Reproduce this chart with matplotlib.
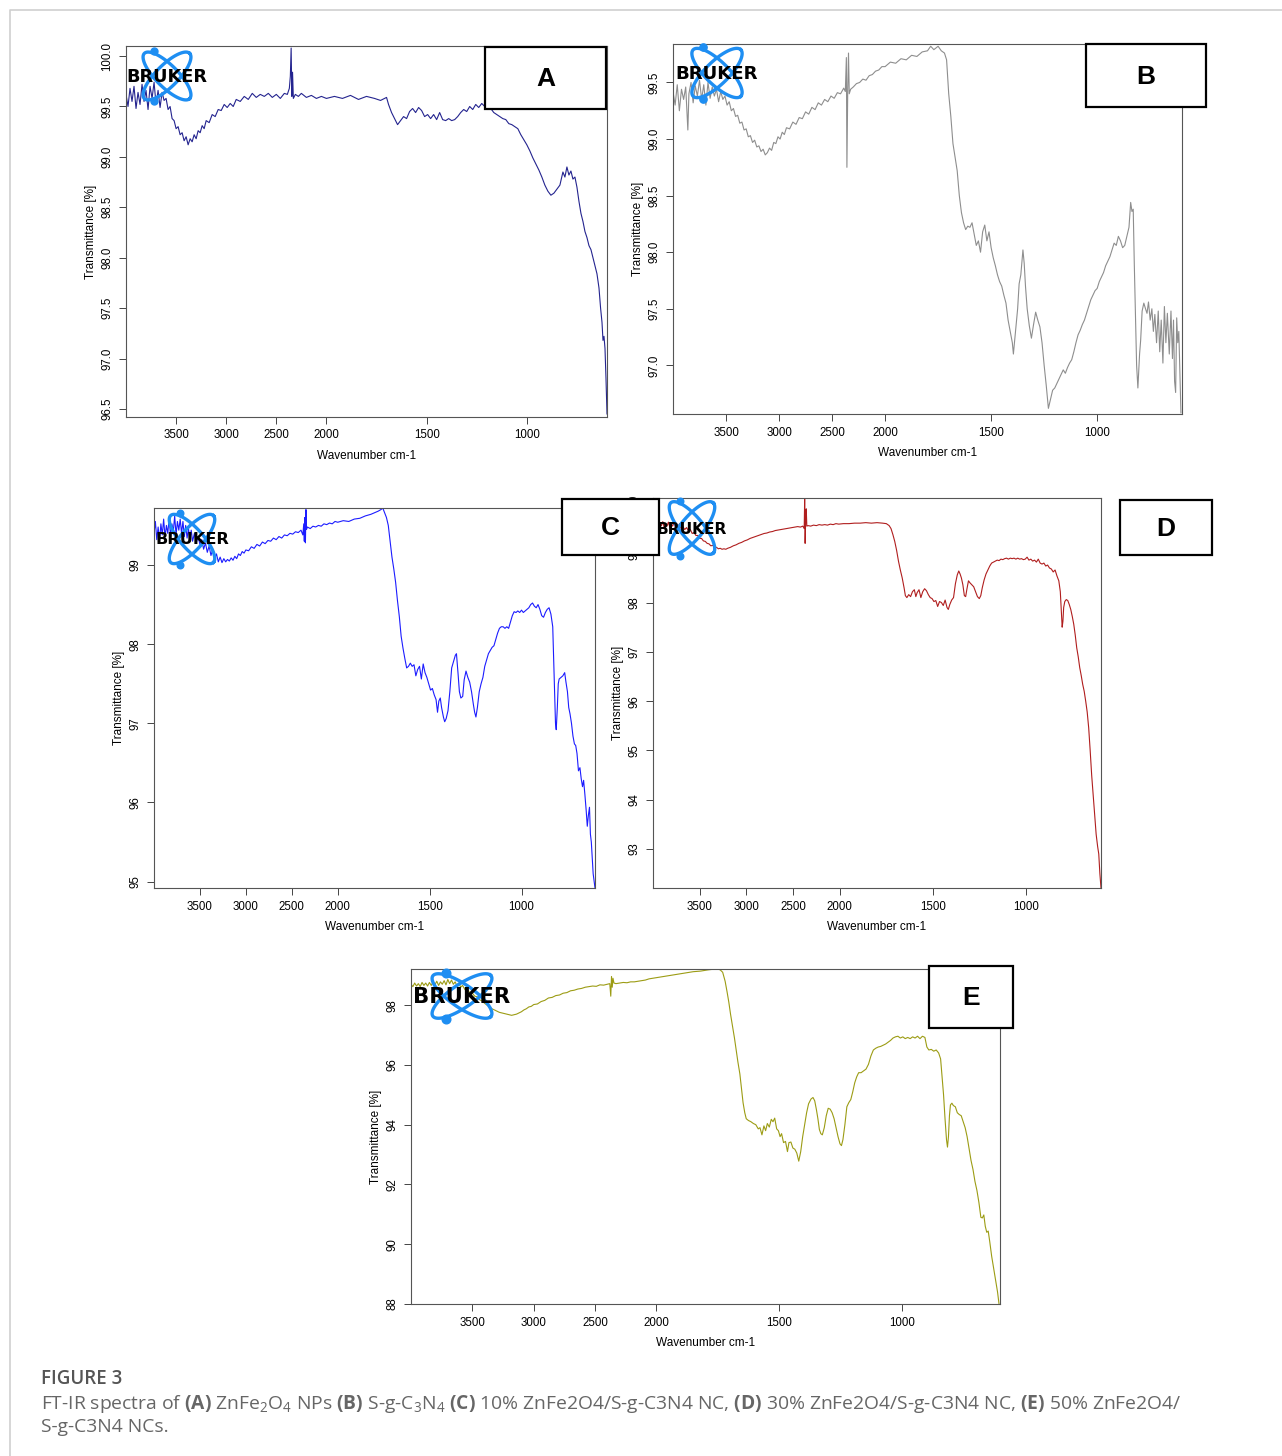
import numpy as np
import matplotlib
matplotlib.use('Agg')
import matplotlib.pyplot as plt
from matplotlib.patches import Rectangle

W, H = 1282, 1456

# ---- spectra (wavenumber cm-1, transmittance %) ----
A_wn = [4000, 3980, 3960, 3940, 3920, 3900, 3880, 3860, 3840, 3820, 3800, 3780, 3760, 3740, 3720, 3700,
        3680, 3660, 3640, 3620, 3600, 3580, 3560, 3540, 3520, 3500, 3480, 3460, 3440, 3420, 3400, 3380,
        3360, 3340, 3320, 3300, 3280, 3260, 3240, 3220, 3200, 3170, 3140, 3110, 3080, 3050, 3020, 2990,
        2960, 2930, 2900, 2860, 2820, 2780, 2740, 2700, 2660, 2620, 2580, 2540, 2500, 2460, 2420, 2390,
        2370, 2360, 2352, 2345, 2338, 2330, 2310, 2280, 2250, 2200, 2150, 2100, 2050, 2000, 1960, 1920,
        1880, 1840, 1800, 1760, 1730, 1710, 1700, 1690, 1675, 1660, 1645, 1630, 1615, 1600, 1585, 1570,
        1555, 1540, 1525, 1510, 1495, 1480, 1465, 1450, 1435, 1420, 1405, 1390, 1375, 1360, 1345, 1330,
        1315, 1300, 1285, 1270, 1255, 1240, 1225, 1210, 1195, 1180, 1165, 1150, 1135, 1120, 1105, 1090,
        1075, 1060, 1045, 1030, 1015, 1000, 985, 970, 955, 940, 925, 910, 895, 880, 865, 850, 835, 820,
        810, 800, 790, 780, 770, 760, 750, 740, 730, 720, 710, 700, 690, 680, 670, 660, 650, 640, 632,
        625, 620, 615, 610, 605, 600]
A_tr = [99.62, 99.50, 99.68, 99.55, 99.70, 99.48, 99.64, 99.52, 99.72, 99.55, 99.66, 99.47, 99.70, 99.58,
        99.74, 99.52, 99.66, 99.49, 99.64, 99.56, 99.58, 99.47, 99.50, 99.38, 99.36, 99.28, 99.30, 99.22,
        99.24, 99.16, 99.20, 99.12, 99.18, 99.15, 99.22, 99.18, 99.26, 99.24, 99.31, 99.28, 99.36, 99.34,
        99.42, 99.40, 99.47, 99.46, 99.52, 99.49, 99.53, 99.50, 99.57, 99.55, 99.60, 99.57, 99.63, 99.59,
        99.62, 99.60, 99.63, 99.59, 99.62, 99.58, 99.63, 99.62, 99.68, 99.80, 100.08, 99.60, 99.84, 99.58,
        99.62, 99.60, 99.63, 99.59, 99.61, 99.58, 99.60, 99.58, 99.60, 99.58, 99.61, 99.57, 99.60, 99.58,
        99.56, 99.58, 99.59, 99.52, 99.44, 99.38, 99.32, 99.36, 99.40, 99.38, 99.45, 99.48, 99.44, 99.49,
        99.46, 99.40, 99.42, 99.38, 99.42, 99.37, 99.44, 99.37, 99.36, 99.38, 99.36, 99.37, 99.40, 99.44,
        99.47, 99.45, 99.50, 99.47, 99.52, 99.49, 99.53, 99.50, 99.47, 99.48, 99.44, 99.42, 99.40, 99.38,
        99.37, 99.33, 99.32, 99.30, 99.28, 99.22, 99.17, 99.12, 99.06, 98.99, 98.93, 98.87, 98.80, 98.72,
        98.66, 98.62, 98.64, 98.68, 98.72, 98.85, 98.80, 98.90, 98.82, 98.86, 98.78, 98.80, 98.70, 98.56,
        98.44, 98.36, 98.26, 98.20, 98.12, 98.08, 98.00, 97.92, 97.84, 97.70, 97.50, 97.36, 97.18, 97.22,
        97.10, 96.80, 96.45]

B_wn = [4000, 3980, 3960, 3940, 3920, 3900, 3880, 3860, 3850, 3830, 3810, 3790, 3770, 3750, 3730, 3710,
        3690, 3670, 3650, 3630, 3610, 3590, 3570, 3550, 3530, 3510, 3490, 3470, 3450, 3430, 3410, 3390,
        3370, 3350, 3330, 3310, 3290, 3270, 3250, 3230, 3210, 3190, 3170, 3150, 3130, 3110, 3090, 3070,
        3050, 3030, 3010, 2990, 2970, 2950, 2930, 2900, 2870, 2840, 2810, 2780, 2750, 2720, 2690, 2660,
        2630, 2600, 2570, 2540, 2510, 2480, 2450, 2420, 2390, 2375, 2365, 2360, 2352, 2345, 2338, 2325,
        2300, 2270, 2240, 2210, 2180, 2150, 2120, 2090, 2060, 2030, 2000, 1975, 1950, 1925, 1900, 1875,
        1850, 1825, 1800, 1785, 1770, 1750, 1735, 1720, 1710, 1700, 1690, 1680, 1670, 1660, 1650, 1640,
        1630, 1620, 1610, 1600, 1590, 1580, 1570, 1560, 1550, 1540, 1530, 1520, 1510, 1500, 1490, 1480,
        1470, 1460, 1450, 1440, 1430, 1420, 1410, 1400, 1395, 1385, 1375, 1368, 1360, 1350, 1344, 1338,
        1330, 1320, 1310, 1300, 1290, 1280, 1270, 1260, 1250, 1240, 1230, 1220, 1210, 1200, 1190, 1180,
        1170, 1160, 1150, 1140, 1130, 1120, 1110, 1100, 1090, 1080, 1070, 1060, 1050, 1040, 1030, 1020,
        1010, 1000, 990, 980, 970, 960, 950, 940, 930, 920, 910, 900, 890, 880, 870, 860, 850, 842, 836,
        830, 825, 820, 814, 808, 800, 795, 788, 780, 772, 765, 758, 750, 742, 735, 728, 720, 712, 705,
        698, 690, 683, 676, 669, 660, 652, 645, 640, 635, 630, 625, 620, 615, 610, 605]
B_tr = [99.42, 99.30, 99.48, 99.25, 99.44, 99.35, 99.46, 99.08, 99.40, 99.50, 99.32, 99.47, 99.38, 99.52,
        99.35, 99.48, 99.30, 99.50, 99.36, 99.46, 99.38, 99.44, 99.33, 99.42, 99.35, 99.38, 99.30, 99.33,
        99.25, 99.27, 99.20, 99.21, 99.14, 99.15, 99.08, 99.09, 99.02, 99.03, 98.97, 98.99, 98.93, 98.94,
        98.89, 98.91, 98.86, 98.88, 98.92, 98.90, 98.97, 98.96, 99.02, 99.00, 99.06, 99.04, 99.10, 99.09,
        99.15, 99.13, 99.19, 99.18, 99.24, 99.22, 99.28, 99.26, 99.32, 99.30, 99.35, 99.33, 99.38, 99.36,
        99.41, 99.40, 99.45, 99.42, 99.72, 98.75, 99.45, 99.76, 99.40, 99.44, 99.46, 99.49, 99.50, 99.53,
        99.52, 99.56, 99.57, 99.60, 99.61, 99.64, 99.64, 99.68, 99.67, 99.71, 99.70, 99.74, 99.73, 99.77,
        99.78, 99.82, 99.79, 99.82, 99.78, 99.76, 99.70, 99.40, 99.20, 98.96, 98.84, 98.72, 98.50, 98.35,
        98.26, 98.20, 98.23, 98.22, 98.26, 98.16, 98.06, 98.10, 98.00, 98.18, 98.24, 98.10, 98.18, 98.04,
        97.95, 97.88, 97.80, 97.74, 97.70, 97.62, 97.55, 97.40, 97.30, 97.20, 97.10, 97.30, 97.50, 97.72,
        97.80, 98.02, 97.90, 97.70, 97.50, 97.35, 97.24, 97.36, 97.47, 97.40, 97.34, 97.20, 97.00, 96.82,
        96.62, 96.70, 96.78, 96.80, 96.84, 96.88, 96.92, 96.96, 96.93, 96.98, 97.02, 97.05, 97.12, 97.20,
        97.27, 97.31, 97.36, 97.40, 97.46, 97.52, 97.58, 97.62, 97.66, 97.68, 97.74, 97.78, 97.82, 97.88,
        97.92, 97.96, 98.02, 98.08, 98.06, 98.14, 98.10, 98.04, 98.06, 98.14, 98.22, 98.44, 98.36, 98.38,
        97.90, 97.50, 97.00, 96.80, 97.10, 97.22, 97.48, 97.55, 97.50, 97.46, 97.56, 97.40, 97.50, 97.30,
        97.45, 97.20, 97.48, 97.12, 97.40, 97.02, 97.52, 97.20, 97.46, 97.10, 97.48, 97.06, 97.40, 96.86,
        96.76, 97.42, 97.20, 97.30, 96.95, 96.58]

C_wn = [4000, 3985, 3970, 3955, 3940, 3925, 3910, 3895, 3880, 3865, 3850, 3835, 3820, 3805, 3790, 3775,
        3760, 3745, 3730, 3715, 3700, 3685, 3670, 3655, 3640, 3625, 3610, 3595, 3580, 3560, 3540, 3520,
        3500, 3480, 3460, 3440, 3420, 3400, 3380, 3360, 3340, 3320, 3300, 3280, 3260, 3240, 3220, 3200,
        3180, 3160, 3140, 3120, 3100, 3080, 3060, 3040, 3020, 3000, 2970, 2940, 2910, 2880, 2850, 2820,
        2790, 2760, 2730, 2700, 2670, 2640, 2610, 2580, 2550, 2520, 2490, 2460, 2430, 2400, 2380, 2370,
        2364, 2358, 2352, 2346, 2340, 2330, 2300, 2270, 2240, 2210, 2180, 2150, 2120, 2090, 2060, 2030,
        2000, 1970, 1940, 1910, 1880, 1850, 1820, 1800, 1780, 1765, 1755, 1745, 1735, 1725, 1715, 1705,
        1695, 1685, 1675, 1665, 1655, 1645, 1635, 1625, 1615, 1605, 1595, 1585, 1575, 1565, 1555, 1545,
        1535, 1525, 1515, 1505, 1495, 1485, 1475, 1465, 1457, 1450, 1442, 1435, 1425, 1418, 1410, 1400,
        1390, 1380, 1370, 1360, 1354, 1345, 1338, 1330, 1320, 1312, 1302, 1292, 1282, 1272, 1262, 1255,
        1248, 1240, 1230, 1220, 1210, 1200, 1190, 1180, 1170, 1160, 1150, 1140, 1130, 1120, 1110, 1100,
        1090, 1080, 1070, 1060, 1050, 1040, 1030, 1020, 1010, 1000, 990, 980, 970, 960, 950, 940, 930,
        920, 910, 900, 890, 880, 870, 860, 850, 840, 830, 825, 820, 815, 811, 805, 800, 795, 785, 775,
        765, 758, 750, 743, 736, 728, 720, 712, 705, 698, 690, 682, 675, 668, 662, 655, 648, 642, 636,
        630, 625, 620, 615, 610, 600]
C_tr = [99.40, 99.55, 99.32, 99.48, 99.30, 99.52, 99.38, 99.58, 99.35, 99.50, 99.40, 99.60, 99.36, 99.52,
        99.42, 99.62, 99.38, 99.55, 99.44, 99.58, 99.40, 99.55, 99.36, 99.50, 99.34, 99.46, 99.32, 99.44,
        99.30, 99.40, 99.28, 99.36, 99.26, 99.32, 99.20, 99.28, 99.16, 99.24, 99.12, 99.20, 99.08, 99.14,
        99.04, 99.10, 99.03, 99.08, 99.04, 99.07, 99.05, 99.09, 99.06, 99.11, 99.08, 99.14, 99.12, 99.17,
        99.15, 99.19, 99.18, 99.23, 99.21, 99.26, 99.24, 99.29, 99.27, 99.31, 99.30, 99.34, 99.32, 99.36,
        99.34, 99.38, 99.37, 99.40, 99.39, 99.42, 99.41, 99.44, 99.38, 99.52, 99.30, 99.60, 99.28, 99.70,
        99.45, 99.48, 99.46, 99.49, 99.48, 99.50, 99.49, 99.52, 99.51, 99.53, 99.52, 99.55, 99.54, 99.56,
        99.55, 99.58, 99.59, 99.62, 99.64, 99.66, 99.68, 99.70, 99.72, 99.66, 99.60, 99.50, 99.30, 99.10,
        98.95, 98.78, 98.55, 98.35, 98.10, 97.95, 97.82, 97.70, 97.72, 97.76, 97.72, 97.74, 97.60, 97.68,
        97.72, 97.56, 97.75, 97.64, 97.58, 97.50, 97.42, 97.44, 97.36, 97.30, 97.14, 97.28, 97.32, 97.20,
        97.08, 97.02, 97.06, 97.16, 97.40, 97.70, 97.78, 97.86, 97.88, 97.62, 97.40, 97.32, 97.34, 97.55,
        97.66, 97.58, 97.52, 97.40, 97.24, 97.14, 97.08, 97.20, 97.40, 97.50, 97.58, 97.72, 97.80, 97.88,
        97.92, 97.96, 97.98, 98.06, 98.14, 98.20, 98.22, 98.22, 98.20, 98.22, 98.20, 98.28, 98.36, 98.41,
        98.40, 98.42, 98.40, 98.43, 98.40, 98.42, 98.44, 98.46, 98.50, 98.52, 98.48, 98.46, 98.50, 98.44,
        98.36, 98.34, 98.40, 98.44, 98.46, 98.38, 98.22, 97.80, 97.40, 97.00, 96.92, 97.20, 97.50, 97.56,
        97.58, 97.60, 97.64, 97.52, 97.40, 97.20, 97.12, 97.00, 96.84, 96.74, 96.72, 96.62, 96.40, 96.44,
        96.30, 96.20, 96.28, 96.10, 95.90, 95.70, 95.84, 95.94, 95.60, 95.50, 95.30, 95.10, 94.92]

D_wn = [4000, 3985, 3970, 3955, 3940, 3925, 3910, 3895, 3880, 3865, 3850, 3835, 3820, 3805, 3790, 3775,
        3760, 3745, 3730, 3715, 3700, 3680, 3660, 3640, 3620, 3600, 3580, 3560, 3540, 3520, 3500, 3480,
        3460, 3440, 3420, 3400, 3380, 3360, 3340, 3320, 3300, 3280, 3260, 3240, 3220, 3200, 3170, 3140,
        3110, 3080, 3050, 3020, 2990, 2960, 2930, 2900, 2870, 2840, 2810, 2780, 2750, 2720, 2690, 2660,
        2630, 2600, 2570, 2540, 2510, 2480, 2450, 2420, 2395, 2380, 2375, 2370, 2365, 2358, 2352, 2340,
        2310, 2280, 2250, 2220, 2190, 2160, 2130, 2100, 2070, 2040, 2010, 1980, 1950, 1920, 1890, 1860,
        1830, 1800, 1770, 1750, 1735, 1725, 1715, 1705, 1695, 1685, 1675, 1665, 1655, 1648, 1640, 1630,
        1620, 1610, 1600, 1592, 1585, 1575, 1565, 1555, 1545, 1535, 1525, 1515, 1505, 1495, 1485, 1475,
        1465, 1455, 1445, 1435, 1425, 1418, 1410, 1400, 1390, 1380, 1370, 1362, 1355, 1348, 1340, 1332,
        1325, 1318, 1310, 1302, 1292, 1282, 1272, 1262, 1252, 1244, 1236, 1226, 1216, 1206, 1196, 1186,
        1176, 1166, 1156, 1146, 1136, 1126, 1116, 1106, 1096, 1086, 1076, 1066, 1056, 1046, 1036, 1026,
        1016, 1006, 996, 986, 976, 966, 956, 946, 936, 926, 916, 906, 896, 886, 876, 866, 856, 846, 836,
        826, 818, 812, 808, 804, 800, 794, 786, 778, 770, 762, 754, 746, 738, 730, 722, 714, 706, 698,
        690, 682, 674, 666, 658, 650, 642, 634, 626, 618, 612, 606, 600]
D_tr = [99.58, 99.62, 99.55, 99.63, 99.54, 99.60, 99.56, 99.64, 99.52, 99.60, 99.55, 99.63, 99.53, 99.60,
        99.55, 99.62, 99.52, 99.58, 99.54, 99.60, 99.50, 99.54, 99.48, 99.52, 99.45, 99.48, 99.40, 99.42,
        99.36, 99.36, 99.30, 99.30, 99.25, 99.24, 99.20, 99.19, 99.15, 99.16, 99.12, 99.12, 99.09, 99.10,
        99.08, 99.09, 99.08, 99.10, 99.12, 99.15, 99.17, 99.20, 99.22, 99.25, 99.27, 99.30, 99.32, 99.34,
        99.36, 99.38, 99.40, 99.41, 99.43, 99.44, 99.46, 99.47, 99.48, 99.49, 99.50, 99.51, 99.52, 99.53,
        99.54, 99.53, 99.55, 99.50, 100.10, 99.20, 99.62, 99.90, 99.55, 99.56, 99.55, 99.57, 99.56, 99.58,
        99.57, 99.58, 99.57, 99.59, 99.58, 99.60, 99.59, 99.60, 99.60, 99.61, 99.61, 99.62, 99.61, 99.62,
        99.61, 99.60, 99.56, 99.50, 99.38, 99.24, 99.06, 98.84, 98.66, 98.50, 98.30, 98.14, 98.10, 98.16,
        98.12, 98.22, 98.26, 98.12, 98.20, 98.26, 98.10, 98.22, 98.28, 98.24, 98.16, 98.10, 98.08, 98.02,
        98.04, 97.92, 98.02, 98.00, 97.94, 98.05, 97.90, 97.86, 97.96, 98.05, 98.10, 98.38, 98.56, 98.64,
        98.58, 98.50, 98.36, 98.14, 98.12, 98.28, 98.44, 98.40, 98.36, 98.32, 98.22, 98.12, 98.08, 98.14,
        98.30, 98.46, 98.58, 98.66, 98.74, 98.80, 98.82, 98.84, 98.86, 98.85, 98.88, 98.87, 98.89, 98.90,
        98.88, 98.90, 98.89, 98.90, 98.88, 98.90, 98.88, 98.89, 98.87, 98.88, 98.92, 98.86, 98.88, 98.84,
        98.86, 98.82, 98.88, 98.80, 98.78, 98.80, 98.74, 98.76, 98.70, 98.68, 98.62, 98.66, 98.54, 98.44,
        98.22, 97.80, 97.50, 97.62, 97.90, 98.02, 98.06, 98.04, 97.96, 97.86, 97.72, 97.56, 97.34, 97.08,
        96.90, 96.68, 96.52, 96.34, 96.20, 96.00, 95.78, 95.46, 95.00, 94.50, 94.10, 93.70, 93.30, 93.05,
        92.90, 92.50, 92.21]

E_wn = [4000, 3985, 3970, 3955, 3940, 3925, 3910, 3895, 3880, 3865, 3850, 3835, 3820, 3805, 3790, 3775,
        3760, 3745, 3730, 3715, 3700, 3685, 3670, 3655, 3640, 3625, 3610, 3595, 3580, 3560, 3540, 3520,
        3500, 3480, 3460, 3440, 3420, 3400, 3380, 3360, 3340, 3320, 3300, 3280, 3260, 3240, 3220, 3200,
        3180, 3160, 3140, 3120, 3100, 3080, 3060, 3040, 3020, 3000, 2970, 2940, 2910, 2880, 2850, 2820,
        2790, 2760, 2730, 2700, 2670, 2640, 2610, 2580, 2550, 2520, 2490, 2460, 2430, 2400, 2380, 2372,
        2366, 2360, 2354, 2346, 2330, 2300, 2270, 2240, 2210, 2180, 2150, 2120, 2090, 2060, 2030, 2000,
        1970, 1940, 1910, 1880, 1850, 1820, 1790, 1770, 1750, 1740, 1730, 1720, 1712, 1705, 1698, 1690,
        1682, 1675, 1668, 1660, 1653, 1647, 1640, 1634, 1625, 1615, 1605, 1595, 1585, 1578, 1570, 1562,
        1555, 1548, 1540, 1532, 1525, 1518, 1510, 1503, 1496, 1490, 1482, 1474, 1466, 1460, 1452, 1444,
        1436, 1428, 1420, 1412, 1404, 1396, 1388, 1380, 1370, 1362, 1355, 1348, 1342, 1336, 1330, 1324,
        1316, 1308, 1300, 1292, 1284, 1276, 1268, 1260, 1252, 1246, 1240, 1232, 1224, 1216, 1208, 1200,
        1192, 1184, 1176, 1166, 1156, 1146, 1136, 1126, 1116, 1106, 1096, 1086, 1076, 1066, 1056, 1046,
        1036, 1026, 1016, 1006, 996, 986, 976, 966, 956, 946, 936, 926, 916, 906, 898, 890, 880, 870,
        860, 850, 842, 836, 830, 824, 818, 814, 810, 806, 802, 796, 790, 782, 774, 766, 758, 750, 742,
        734, 726, 718, 710, 702, 694, 686, 678, 672, 666, 660, 654, 648, 642, 634, 626, 618, 610, 604]
E_tr = [98.70, 98.62, 98.74, 98.64, 98.72, 98.62, 98.76, 98.66, 98.74, 98.64, 98.76, 98.66, 98.78, 98.68,
        98.80, 98.66, 98.78, 98.70, 98.82, 98.68, 98.86, 98.72, 98.84, 98.70, 98.78, 98.64, 98.74, 98.60,
        98.66, 98.52, 98.54, 98.40, 98.40, 98.30, 98.28, 98.18, 98.14, 98.06, 98.00, 97.94, 97.88, 97.84,
        97.80, 97.76, 97.74, 97.72, 97.70, 97.68, 97.66, 97.68, 97.70, 97.74, 97.78, 97.84, 97.88, 97.94,
        97.96, 98.02, 98.04, 98.12, 98.16, 98.24, 98.26, 98.32, 98.34, 98.40, 98.42, 98.48, 98.50, 98.54,
        98.56, 98.60, 98.62, 98.64, 98.63, 98.68, 98.67, 98.70, 98.72, 98.30, 98.96, 98.60, 98.90, 98.74,
        98.72, 98.74, 98.76, 98.75, 98.78, 98.78, 98.80, 98.82, 98.84, 98.88, 98.90, 98.92, 98.96, 99.00,
        99.04, 99.08, 99.12, 99.14, 99.18, 99.20, 99.21, 99.18, 99.10, 98.80, 98.44, 98.10, 97.70, 97.30,
        96.90, 96.50, 96.10, 95.70, 95.20, 94.74, 94.40, 94.20, 94.14, 94.10, 94.04, 94.00, 93.86, 93.90,
        93.66, 93.96, 93.80, 94.04, 93.92, 94.18, 94.10, 94.22, 93.86, 93.80, 93.60, 93.70, 93.40, 93.44,
        93.10, 93.40, 93.42, 93.22, 93.18, 93.05, 92.78, 93.10, 93.60, 94.00, 94.40, 94.70, 94.86, 94.91,
        94.80, 94.50, 94.20, 93.84, 93.70, 93.66, 93.90, 94.30, 94.55, 94.52, 94.40, 94.20, 93.90, 93.60,
        93.36, 93.30, 93.50, 94.00, 94.60, 94.74, 94.84, 95.10, 95.40, 95.60, 95.74, 95.74, 95.80, 95.86,
        96.02, 96.30, 96.50, 96.56, 96.60, 96.62, 96.66, 96.70, 96.76, 96.82, 96.90, 96.94, 96.96, 96.90,
        96.94, 96.88, 96.92, 96.88, 96.94, 96.90, 96.96, 96.88, 96.96, 96.92, 96.60, 96.50, 96.52, 96.46,
        96.50, 96.40, 96.20, 95.60, 95.00, 94.20, 93.50, 93.25, 93.60, 94.30, 94.66, 94.72, 94.64, 94.60,
        94.40, 94.34, 94.30, 94.10, 93.90, 93.60, 93.20, 92.80, 92.50, 92.10, 91.80, 91.40, 90.90, 90.88,
        90.98, 90.60, 90.40, 90.44, 90.10, 89.60, 89.20, 88.80, 88.40, 88.00]

x_ticks = [3500, 3000, 2500, 2000, 1500, 1000]
A_yticks = [96.5, 97.0, 97.5, 98.0, 98.5, 99.0, 99.5, 100.0]
B_yticks = [97.0, 97.5, 98.0, 98.5, 99.0, 99.5]
C_yticks = [95, 96, 97, 98, 99]
D_yticks = [93, 94, 95, 96, 97, 98, 99, 100]
E_yticks = [88, 90, 92, 94, 96, 98]

NARROW = ['Liberation Sans Narrow', 'Liberation Sans', 'DejaVu Sans']


# wavenumber axis is expanded 2x below 2000 cm-1
def fwd(w):
    w = np.asarray(w, dtype=float)
    return np.where(w > 2000, 2000 + (w - 2000) / 2, w)


def inv(u):
    u = np.asarray(u, dtype=float)
    return np.where(u > 2000, 2000 + (u - 2000) * 2, u)


fig = plt.figure(figsize=(W / 100, H / 100), dpi=100)


def panel(box, wn, tr, color, ylim, yticks, fmt):
    x0, y0, x1, y1 = box
    ax = fig.add_axes([x0 / W, 1 - y1 / H, (x1 - x0) / W, (y1 - y0) / H])
    ax.patch.set_alpha(0)
    ax.plot(wn, tr, color=color, lw=0.8)
    ax.set_xscale('function', functions=(fwd, inv))
    ax.set_xlim(4000, 600)
    ax.set_ylim(*ylim)
    ax.set_xticks(x_ticks)
    ax.set_xticklabels([str(t) for t in x_ticks], family=NARROW, fontsize=8.3)
    ax.set_yticks(yticks)
    ax.set_yticklabels([fmt.format(t) for t in yticks], family=NARROW, fontsize=8.3,
                       rotation=90, va='center')
    ax.tick_params(direction='out', length=5, width=0.7, color='#444', pad=4)
    ax.minorticks_off()
    for s in ax.spines.values():
        s.set_color('#555')
        s.set_linewidth(0.8)
    ax.set_xlabel('Wavenumber cm-1', family=NARROW, fontsize=8.5, labelpad=6)
    ax.set_ylabel('Transmittance [%]', family=NARROW, fontsize=8.5, labelpad=3)
    return ax


panel((126, 46, 607, 417), A_wn, A_tr, '#24248f', (96.42, 100.10), A_yticks, '{:.1f}')
panel((673, 44, 1182, 414), B_wn, B_tr, '#8e8e8e', (96.57, 99.84), B_yticks, '{:.1f}')
panel((154, 508, 595, 888), C_wn, C_tr, '#1c1cff', (94.92, 99.72), C_yticks, '{:d}')
panel((653, 498, 1101, 888), D_wn, D_tr, '#b01e1e', (92.21, 100.12), D_yticks, '{:d}')
panel((411, 969, 1000, 1304), E_wn, E_tr, '#9c9c14', (88.0, 99.21), E_yticks, '{:d}')

# overlay in pixel coordinates for logos, letter boxes, page frame and caption
ov = fig.add_axes([0, 0, 1, 1])
ov.set_xlim(0, W)
ov.set_ylim(H, 0)
ov.axis('off')
ov.patch.set_alpha(0)

ov.plot([10, 10, W], [H, 10, 10], color='#cfcfcf', lw=1.2)


def logo(cx, cy, sx, sy, fsize):
    t = np.linspace(0, 2 * np.pi, 120)
    for ang in (np.pi / 4, -np.pi / 4):
        ex = 32 * np.cos(t)
        ey = 11 * np.sin(t)
        xr = ex * np.cos(ang) - ey * np.sin(ang)
        yr = ex * np.sin(ang) + ey * np.cos(ang)
        ov.plot(cx + sx * xr, cy + sy * yr, color='#1e8ef2', lw=2.4, zorder=3)
    ov.plot([cx - 13 * sx, cx - 13 * sx], [cy - 25 * sy, cy + 25 * sy], 'o',
            color='#1e8ef2', ms=5 * sx, zorder=3)
    ov.text(cx, cy + 1, 'BRUKER', fontsize=fsize, fontweight='heavy', color='black',
            family='DejaVu Sans', ha='center', va='center', zorder=3)


logo(167, 76, 1.0, 1.0, 12.8)
logo(717, 73, 1.05, 1.03, 13.1)
logo(192, 539, 0.95, 1.03, 11.6)
logo(692, 528, 0.95, 1.1, 11.2)
logo(462, 996, 1.25, 0.93, 15.2)


def letter(x0, y0, x1, y1, s):
    ov.add_patch(Rectangle((x0, y0), x1 - x0, y1 - y0, facecolor='white',
                           edgecolor='black', lw=1.6, zorder=5))
    ov.text((x0 + x1) / 2, (y0 + y1) / 2 + 1, s, fontsize=19, fontweight='bold',
            family=['Liberation Sans', 'DejaVu Sans'], ha='center', va='center', zorder=6)


letter(485, 47, 606, 109, 'A')
letter(1086, 44, 1206, 107, 'B')
letter(562, 499, 659, 555, 'C')
letter(1120, 500, 1212, 555, 'D')
letter(929, 966, 1013, 1028, 'E')

plt.rcParams['mathtext.fontset'] = 'custom'
plt.rcParams['mathtext.rm'] = 'Open Sans'
plt.rcParams['mathtext.bf'] = 'Open Sans:bold'

ov.text(41, 1379, 'FIGURE 3', fontsize=13.5, fontweight='semibold', color='#555',
        family='Open Sans', ha='left', va='center')
ov.text(41, 1404, r'FT-IR spectra of $\mathbf{(A)}$ ZnFe$_2$O$_4$ NPs $\mathbf{(B)}$ S-g-C$_3$N$_4$ '
                  r'$\mathbf{(C)}$ 10% ZnFe2O4/S-g-C3N4 NC, $\mathbf{(D)}$ 30% ZnFe2O4/S-g-C3N4 NC, '
                  r'$\mathbf{(E)}$ 50% ZnFe2O4/',
        fontsize=13.9, color='#666', family='Open Sans', ha='left', va='center')
ov.text(41, 1427, 'S-g-C3N4 NCs.', fontsize=13.9, color='#666', family='Open Sans',
        ha='left', va='center')

fig.savefig('out.png', dpi=100, facecolor='white')
